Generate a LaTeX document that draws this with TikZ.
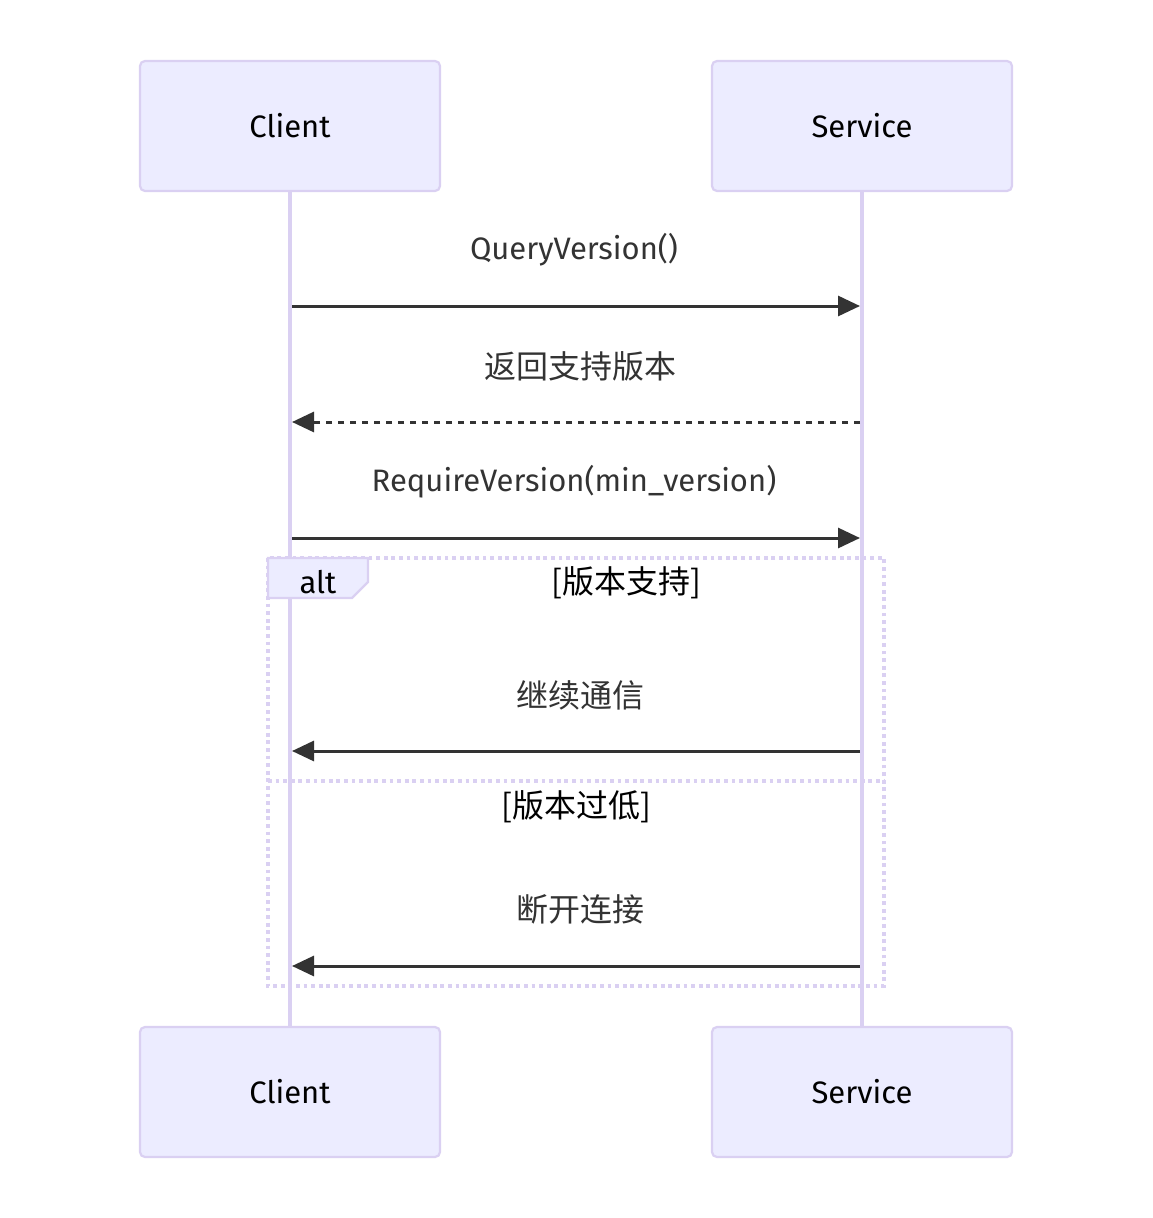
\documentclass[tikz,border=0pt]{standalone}
\usepackage{fontspec}
\setmainfont{Fira Sans}
\newfontfamily\cjk{Noto Sans CJK SC}
\usetikzlibrary{arrows.meta}
\definecolor{actfill}{HTML}{ECECFF}
\definecolor{actline}{HTML}{DAD0F2}
\definecolor{msg}{HTML}{333333}
\begin{document}
\begin{tikzpicture}[x=1pt,y=-1pt,
  actor/.style={draw=actline,line width=2.2pt,fill=actfill,rounded corners=5pt,minimum width=300pt,minimum height=130pt,inner sep=0pt,font=\fontsize{31}{36}\selectfont,text=black},
  life/.style={draw=actline,line width=4pt},
  msgline/.style={draw=msg,line width=3pt,-{Triangle[length=22pt,width=20pt]}},
  lbl/.style={font=\fontsize{31}{36}\selectfont,text=msg,inner sep=0pt},
  cjklbl/.style={font=\cjk\fontsize{32}{36}\selectfont,text=msg,inner sep=0pt},
  altline/.style={draw=actline,line width=3.5pt,dash pattern=on 3.8pt off 3.8pt},
]
\useasboundingbox (0,0) rectangle (1152,1218);
\fill[white] (0,0) rectangle (1152,1218);
% lifelines
\draw[life] (290,190) -- (290,1026);
\draw[life] (862,190) -- (862,1026);
% actors
\node[actor] (ct) at (290,126) {Client};
\node[actor] (st) at (862,126) {Service};
\node[actor] (cb) at (290,1092) {Client};
\node[actor] (sb) at (862,1092) {Service};
% anchor coordinates on lifelines
\coordinate (c1) at (292,306); \coordinate (s1) at (860,306);
\coordinate (c2) at (292,422); \coordinate (s2) at (860,422);
\coordinate (c3) at (292,538); \coordinate (s3) at (860,538);
\coordinate (c4) at (292,751); \coordinate (s4) at (860,751);
\coordinate (c5) at (292,966); \coordinate (s5) at (860,966);
% messages
\node[lbl] (l1) at (574,250) {QueryVersion()};
\draw[msgline] (c1) -- (s1);
\node[cjklbl] (l2) at (580,366) {返回支持版本};
\draw[msgline,dash pattern=on 6pt off 6pt] (s2) -- (c2);
\node[lbl] (l3) at (574,482) {RequireVersion(min\_version)};
\draw[msgline] (c3) -- (s3);
% alt frame
\draw[altline] (268,558) rectangle (884,986);
\draw[altline] (268,781) -- (884,781);
\filldraw[fill=actfill,draw=actline,line width=2.2pt] (268,558) -- (368,558) -- (368,582) -- (352,598) -- (268,598) -- cycle;
\node[lbl,text=black] (alt) at (318,582) {alt};
\node[cjklbl,text=black] (g1) at (626,583) {[版本支持]};
\node[cjklbl,text=black] (g2) at (576,807) {[版本过低]};
\node[cjklbl] (l4) at (580,695) {继续通信};
\draw[msgline] (s4) -- (c4);
\node[cjklbl] (l5) at (580,909) {断开连接};
\draw[msgline] (s5) -- (c5);
\end{tikzpicture}
\end{document}
